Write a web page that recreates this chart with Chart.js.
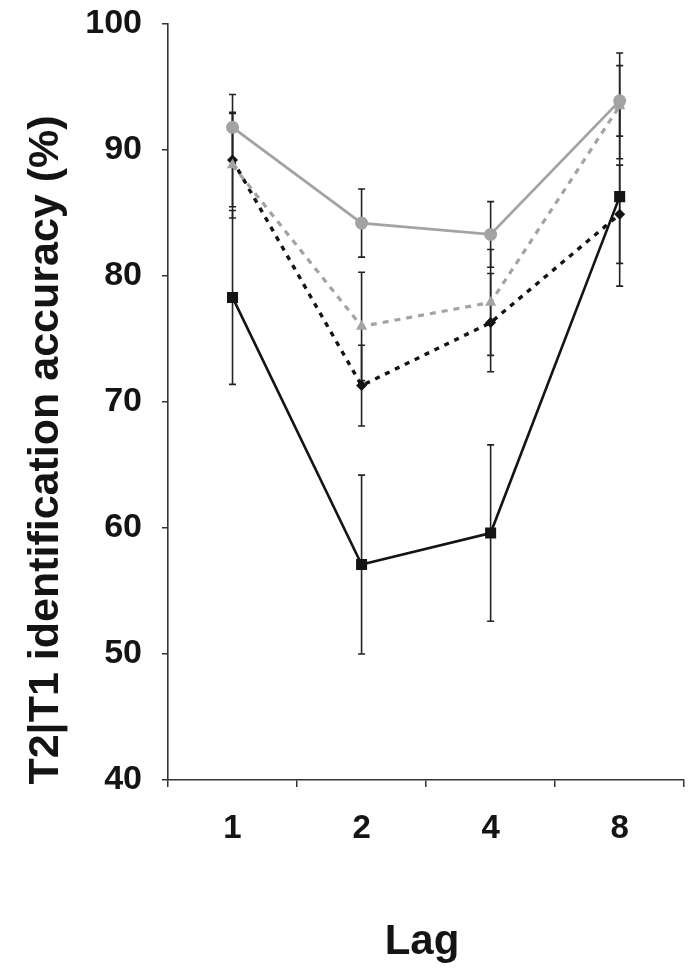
<!DOCTYPE html>
<html><head><meta charset="utf-8">
<script src="https://cdn.jsdelivr.net/npm/chart.js@4.4.1/dist/chart.umd.min.js"></script>
<style>html,body{margin:0;padding:0;background:#fff;} #wrap{width:692px;height:971px;position:relative;}</style>
</head><body><div id="wrap"><canvas id="c" width="692" height="971"></canvas></div>
<script>
// ---- data ----
const lags = ['1', '2', '4', '8'];
const yTickValues = [40, 50, 60, 70, 80, 90, 100];
const grayCircle = [91.8, 84.2, 83.3, 93.9];
const grayCircleErr = [2.6, 2.7, 2.6, 2.8];
const grayTriangle = [88.8, 76.0, 77.9, 93.5];
const grayTriangleErr = [4.2, 4.3, 4.2, 4.2];
const blackDiamond = [89.2, 71.3, 76.3, 84.9];
const blackDiamondErr = [3.7, 3.2, 3.9, 3.9];
const blackSquare = [78.3, 57.1, 59.6, 86.3];
const blackSquareErr = [6.9, 7.1, 7.0, 7.1];
const yTitle = 'T2|T1 identification accuracy (%)';
const xTitle = 'Lag';

const FONT = '"Liberation Sans", Arial, Helvetica, sans-serif';
const GRAY = '#a3a3a3';
const BLACK = '#141414';

const errorBars = {
  id: 'errorBars',
  beforeDatasetsDraw(chart) {
    const { ctx, scales: { x, y } } = chart;
    ctx.save();
    ctx.strokeStyle = '#222';
    ctx.lineWidth = 1.6;
    chart.data.datasets.forEach((ds, di) => {
      if (!chart.isDatasetVisible(di)) return;
      ds.data.forEach((v, i) => {
        const e = ds.err[i];
        const px = x.getPixelForValue(i);
        const yt = y.getPixelForValue(v + e), yb = y.getPixelForValue(v - e);
        ctx.beginPath();
        ctx.moveTo(px, yt); ctx.lineTo(px, yb);
        ctx.moveTo(px - 3.5, yt); ctx.lineTo(px + 3.5, yt);
        ctx.moveTo(px - 3.5, yb); ctx.lineTo(px + 3.5, yb);
        ctx.stroke();
      });
    });
    ctx.restore();
  }
};

const axisTitles = {
  id: 'axisTitles',
  afterDraw(chart) {
    const { ctx, chartArea } = chart;
    ctx.save();
    ctx.fillStyle = BLACK;
    ctx.font = 'bold 43px ' + FONT;
    ctx.textAlign = 'center';
    ctx.textBaseline = 'middle';
    ctx.translate(46, chartArea.bottom - 330);
    ctx.rotate(-Math.PI / 2);
    ctx.fillText(yTitle, 0, 0);
    ctx.restore();
    ctx.save();
    ctx.fillStyle = BLACK;
    ctx.font = 'bold 42px ' + FONT;
    ctx.textAlign = 'center';
    ctx.textBaseline = 'middle';
    ctx.fillText(xTitle, 422, chartArea.bottom + 162);
    ctx.restore();
  }
};

new Chart(document.getElementById('c'), {
  type: 'line',
  data: {
    labels: lags,
    datasets: [
      { label: 'circle', data: grayCircle, err: grayCircleErr, borderColor: GRAY, backgroundColor: GRAY,
        borderWidth: 2.8, pointStyle: 'circle', pointRadius: 6.5, pointBorderWidth: 0, pointBackgroundColor: GRAY },
      { label: 'square', data: blackSquare, err: blackSquareErr, borderColor: BLACK, backgroundColor: BLACK,
        borderWidth: 2.6, pointStyle: 'rect', pointRadius: 7.8, pointBorderWidth: 0, pointBackgroundColor: BLACK },
      { label: 'triangle', data: grayTriangle, err: grayTriangleErr, borderColor: GRAY, backgroundColor: GRAY,
        borderWidth: 3.2, borderDash: [6, 6], pointStyle: 'triangle', pointRadius: 6.5, pointBorderWidth: 0, pointBackgroundColor: GRAY },
      { label: 'diamond', data: blackDiamond, err: blackDiamondErr, borderColor: BLACK, backgroundColor: BLACK,
        borderWidth: 3.4, borderDash: [5, 6], pointStyle: 'rectRot', pointRadius: 5.5, pointBorderWidth: 0, pointBackgroundColor: BLACK }
    ]
  },
  options: {
    responsive: false,
    animation: false,
    layout: { padding: { top: 24, right: -8, bottom: 0, left: 0 } },
    plugins: { legend: { display: false }, tooltip: { enabled: false } },
    elements: { line: { tension: 0, fill: false } },
    scales: {
      x: {
        type: 'category',
        offset: true,
        grid: { offset: true, drawOnChartArea: false, tickLength: 7, color: '#333', lineWidth: 1.5 },
        border: { color: '#333', width: 1.6 },
        ticks: { color: BLACK, font: { family: FONT, size: 33, weight: 'bold' }, padding: 22, maxRotation: 0 },
        afterFit(s) { s.height = 191; s.paddingLeft = 0; s.paddingRight = 0; }
      },
      y: {
        min: 40, max: 100,
        afterBuildTicks(s) { s.ticks = yTickValues.map(v => ({ value: v })); },
        grid: { drawOnChartArea: false, tickLength: 6, color: '#333', lineWidth: 1.5 },
        border: { color: '#333', width: 1.6 },
        ticks: { color: BLACK, font: { family: FONT, size: 34, weight: 'bold' }, padding: 20 },
        afterFit(s) { s.width = 168; s.paddingTop = 0; s.paddingBottom = 0; }
      }
    }
  },
  plugins: [errorBars, axisTitles]
});
</script></body></html>
